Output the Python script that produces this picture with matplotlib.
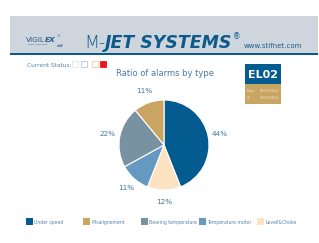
import matplotlib
matplotlib.use("Agg")
import matplotlib.pyplot as plt
from matplotlib.patches import Rectangle

# ---- data ----
slice_labels = ["Under speed", "Levell&Choke", "Temperature motor", "Bearing temperature", "Misalignement"]
slice_values = [44, 12, 11, 22, 11]
slice_colors = ["#035b8f", "#fde3c2", "#6699c1", "#7892a1", "#c9a462"]
legend_labels = ["Under speed", "Misalignement", "Bearing temperature", "Temperature motor", "Levell&Choke"]
legend_colors = ["#035b8f", "#c9a462", "#7892a1", "#6699c1", "#fde3c2"]
chart_title = "Ratio of alarms by type"
box_code = "EL02"
date_from = "03/03/2014"
date_to = "16/03/2014"

W, H = 319, 243
fig = plt.figure(figsize=(W / 100, H / 100), dpi=100)
bg = fig.add_axes([0, 0, 1, 1])
bg.set_xlim(0, W)
bg.set_ylim(H, 0)
bg.axis("off")
renderer = fig.canvas.get_renderer()


def right_edge(t):
    bb = t.get_window_extent(renderer=renderer)
    return bb.x1 * W / fig.bbox.width


# header band
bg.add_patch(Rectangle((10, 16), 308, 37, color="#cfd5dc", lw=0))
bg.add_patch(Rectangle((10, 53), 308, 2.2, color="#0b5a8b", lw=0))

t1 = bg.text(26, 41.5, "VIGIL", fontsize=5.3, color="#1f5f8f", va="baseline", ha="left")
x = right_edge(t1)
t2 = bg.text(x, 41.5, "EX", fontsize=5.3, color="#1f5f8f", va="baseline", ha="left",
             weight="bold", style="italic")
x = right_edge(t2)
bg.text(x + 0.5, 37.5, "®", fontsize=2.5, color="#1f5f8f", va="baseline")
bg.text(28, 44.8, "safety  monitoring", fontsize=1.5, color="#1f5f8f", va="baseline")
bg.text(57, 47, "stif", fontsize=2.5, color="#1f5f8f", va="baseline", style="italic", weight="bold")

t3 = bg.text(84, 48, "M-", fontsize=12.5, color="#0b5a8b", va="baseline", ha="left", weight="light")
x = right_edge(t3)
t4 = bg.text(x, 48, "JET SYSTEMS", fontsize=12.5, color="#0b5a8b", va="baseline", ha="left",
             weight="bold", style="italic")
x = right_edge(t4)
bg.text(x + 1, 39.5, "®", fontsize=5.5, color="#0b5a8b", va="baseline")
bg.text(244, 48, "www.stifnet.com", fontsize=5, color="#1f5f8f", va="baseline")

# current status
bg.text(27, 67, "Current Status:", fontsize=4.2, color="#5b86ad", va="baseline")
for x0, ec, fc in [(72, "#e3e6ea", "white"), (81, "#b8c6d2", "white"), (92, "#f4c9a0", "white"), (100, "#e8151b", "#e8151b")]:
    bg.add_patch(Rectangle((x0, 61), 6, 6, facecolor=fc, edgecolor=ec, lw=0.6))

# EL02 box
bg.add_patch(Rectangle((245, 64), 36, 20, color="#035b8f", lw=0))
bg.add_patch(Rectangle((245, 84), 36, 20, color="#c9a462", lw=0))
bg.text(263, 77.5, box_code, fontsize=8, color="white", weight="bold", ha="center", va="baseline")
bg.text(247, 92, "From:", fontsize=2.3, color="#f3ead8", va="baseline")
bg.text(260, 92, date_from, fontsize=2.3, color="#f3ead8", va="baseline")
bg.text(247, 99, "To:", fontsize=2.3, color="#f3ead8", va="baseline")
bg.text(260, 99, date_to, fontsize=2.3, color="#f3ead8", va="baseline")

# title
bg.text(165, 76, chart_title, fontsize=6, color="#4a7aa6", ha="center", va="baseline")

# pie
cx, cy, r = 164, 145, 45
pax = fig.add_axes([(cx - r) / W, (H - cy - r) / H, 2 * r / W, 2 * r / H])
wedges, texts, autotexts = pax.pie(
    slice_values, colors=slice_colors, startangle=90, counterclock=False,
    autopct="%d%%", pctdistance=1.27, radius=1,
    wedgeprops=dict(edgecolor="white", linewidth=0.8),
    textprops=dict(fontsize=5.2, color="#3d78ad"))
pax.set_xlim(-1, 1)
pax.set_ylim(-1, 1)
pax.axis("off")

# legend
leg_x = [26, 83, 141, 199, 257]
for x0, lab, col in zip(leg_x, legend_labels, legend_colors):
    bg.add_patch(Rectangle((x0, 218), 6.5, 6.5, color=col, lw=0))
    bg.text(x0 + 8, 223.5, lab, fontsize=3.3, color="#5b86ad", va="baseline")

fig.savefig("out.png", dpi=100)
